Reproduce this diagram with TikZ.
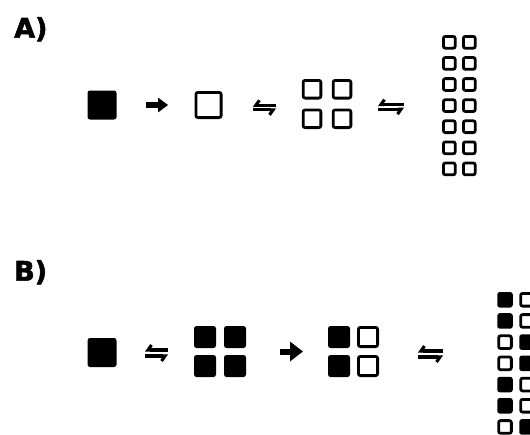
\documentclass[tikz,border=0pt]{standalone}
\usepackage{fontspec}
\newfontfamily\lblfont{DejaVu Sans Bold}[FakeBold=2]
\usetikzlibrary{arrows.meta, positioning, calc}

\begin{document}
\begin{tikzpicture}[
        x=1pt, y=-1pt,
        fullbox/.style={fill=black, rounded corners=2.5pt, inner sep=0, outer sep=0, minimum size=#1},
        emptybox/.style={draw=black, line width=2.8pt, rounded corners=2pt, inner sep=0, outer sep=0, minimum size=#1},
        smallfull/.style={fullbox=15.5pt},
        smallempty/.style={emptybox=12.7pt},
        grp/.style 2 args={inner sep=0, outer sep=0, minimum width=#1, minimum height=#2},
        lbl/.style={inner sep=0, font=\lblfont\fontsize{27}{31}\selectfont},
        fwd/.style={line width=6pt, -{Triangle[length=10pt, width=14pt]}},
        harp/.style={line width=3.1pt, -{Straight Barb[right, length=3.5pt, width=10pt]}}
    ]
        \useasboundingbox (0,0) rectangle (530,434);
        \clip (0,0) rectangle (530,434);

        % A) one box, then division
        \node[lbl, anchor=north west] (labA) at (14,17) {A)};
        \node[fullbox=29pt] (a1) at (102,105) {};
        \node[emptybox=25.2pt] (a2) at (208.5,105) {};
        \node[grp={50pt}{50pt}] (a3) at (327,104) {};
        \foreach \dx/\i in {-15/1,15/2}
            \foreach \dy/\j in {-14.75/1,14.75/2}
                \node[emptybox=17.7pt] (a3-\i-\j) at ($(a3)+(\dx,\dy)$) {};
        \node[grp={34.5pt}{141pt}] (a4) at (459.25,105.5) {};
        \foreach \r in {0,...,6} {
            \node[emptybox=11.8pt] (a4-\r-l) at ($(a4.north west)+(7.3,7.3+21.1*\r)$) {};
            \node[emptybox=11.8pt] (a4-\r-r) at ($(a4.north west)+(27.3,7.3+21.1*\r)$) {};
        }

        \draw[fwd, shorten <=29.5pt, shorten >=27.8pt] (a1) -- (a2);
        \draw[harp, shorten <=26pt, shorten >=31.8pt] ([yshift=-0.3pt]a2.east -| a3.west) -- ([yshift=-0.3pt]a2.east);
        \draw[harp, shorten <=31.8pt, shorten >=26pt] ([yshift=-4.9pt]a2.east) -- ([yshift=-4.9pt]a2.east -| a3.west);
        \draw[harp, shorten <=38pt, shorten >=26pt] ([yshift=-0.6pt]a3.east -| a4.west) -- ([yshift=-0.6pt]a3.east);
        \draw[harp, shorten <=26pt, shorten >=38pt] ([yshift=-5.2pt]a3.east) -- ([yshift=-5.2pt]a3.east -| a4.west);

        % B) same with marked boxes
        \node[lbl, anchor=north west] (labB) at (14,260) {B)};
        \node[fullbox=29pt] (b1) at (102,352.5) {};
        \node[grp={52pt}{51pt}] (b2) at (220,351.5) {};
        \foreach \dx/\i in {-15/1,15/2}
            \foreach \dy/\j in {-14.5/1,14.5/2}
                \node[fullbox=22pt] (b2-\i-\j) at ($(b2)+(\dx,\dy)$) {};
        \node[grp={51pt}{51pt}] (b3) at (353.5,351.5) {};
        \foreach \dy/\j in {-14.5/1,14.5/2} {
            \node[fullbox=22pt] (b3-1-\j) at ($(b3)+(-14.5,\dy)$) {};
            \node[emptybox=19.2pt] (b3-2-\j) at ($(b3)+(14.5,\dy)$) {};
        }
        \node[grp={38pt}{142.7pt}] (b4) at (516,363.35) {};
        \foreach \r/\lsty/\rsty in {0/smallfull/smallempty, 1/smallfull/smallempty,
                2/smallempty/smallfull, 3/smallempty/smallfull, 4/smallfull/smallempty,
                5/smallfull/smallempty, 6/smallempty/smallfull} {
            \node[\lsty] (b4-\r-l) at ($(b4.north west)+(8,7.75+21.2*\r)$) {};
            \node[\rsty] (b4-\r-r) at ($(b4.north west)+(30,7.75+21.2*\r)$) {};
        }

        \draw[harp, shorten <=26pt, shorten >=28.5pt] ([yshift=2.5pt]b1.east -| b2.west) -- ([yshift=2.5pt]b1.east);
        \draw[harp, shorten <=28.5pt, shorten >=26pt] ([yshift=-3.5pt]b1.east) -- ([yshift=-3.5pt]b1.east -| b2.west);
        \draw[fwd, -{Triangle[length=13pt, width=19pt]}, shorten <=34pt, shorten >=25pt] (b2) -- (b3);
        \draw[harp, shorten <=54pt, shorten >=39pt] ([yshift=0.5pt]b3.east -| b4.west) -- ([yshift=0.5pt]b3.east);
        \draw[harp, shorten <=39pt, shorten >=54pt] ([yshift=-5.5pt]b3.east) -- ([yshift=-5.5pt]b3.east -| b4.west);
    \end{tikzpicture}
\end{document}
